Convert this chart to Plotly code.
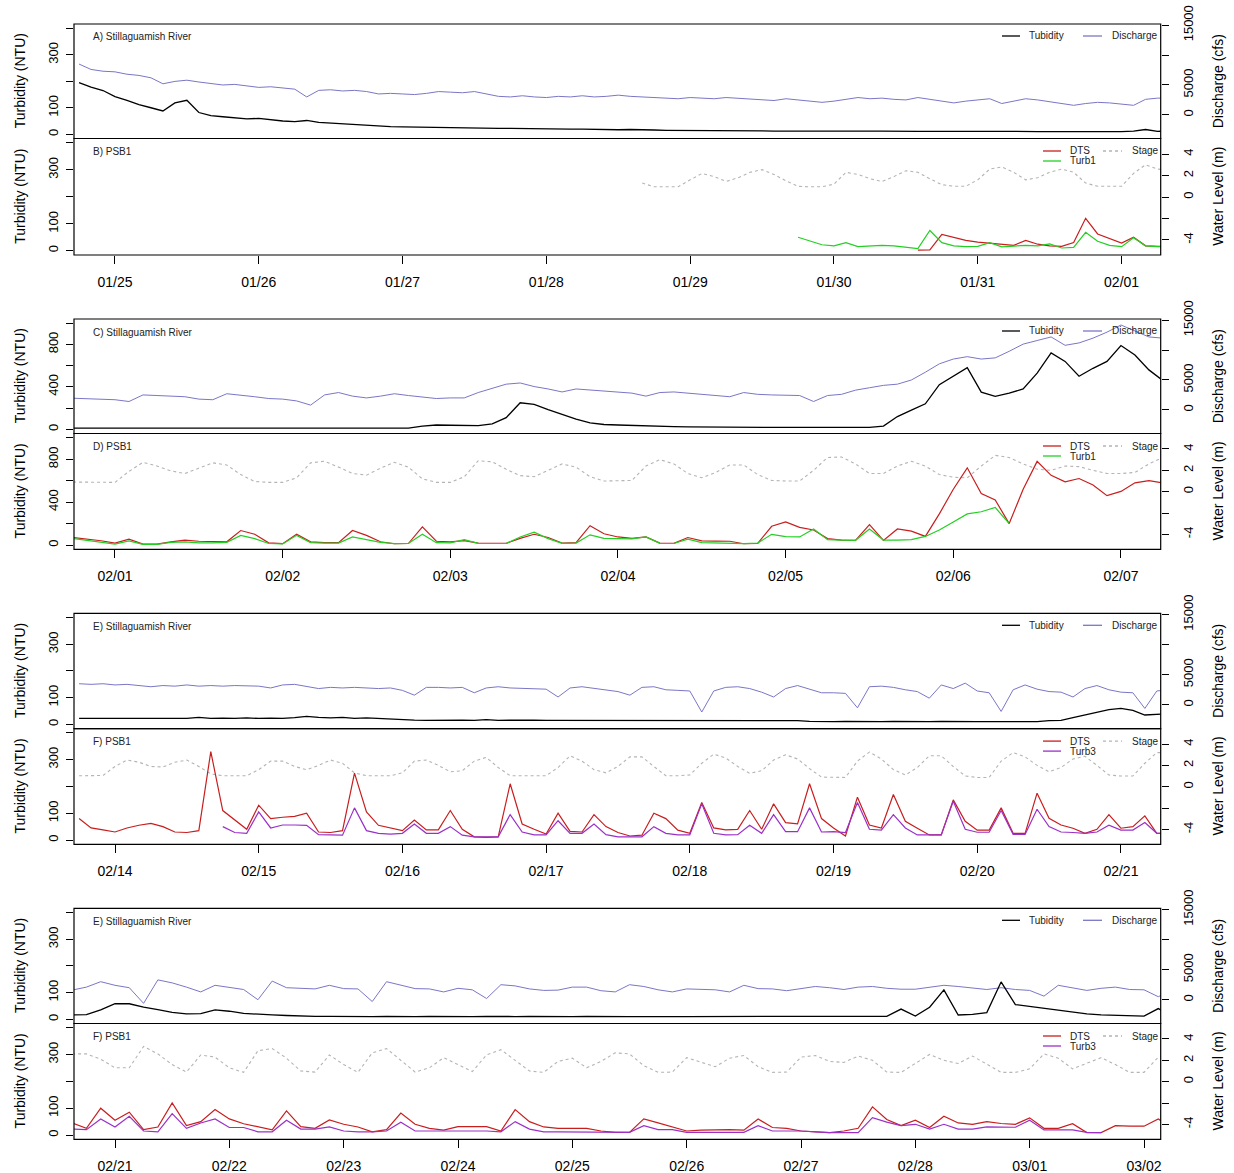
import plotly.graph_objects as go
import pandas as pd

W, H = 1234, 1173
PX_L, PX_R = 74.0, 1160.7
FONT = "Liberation Sans, Arial, sans-serif"

# ---------------- DATA ----------------
# Group 1 (Jan 25 - Feb 1), 2-hour samples
g1_start = "2015-01-24 18:00"
g1_turbidity = [195,178,165,142,128,112,100,88,118,128, 82,70,66,61,58,60,54,50,48,52,
                45,42,40,38,34,30,29,28,27,26, 27,25,24,24,23,22,22,21,21,20,
                20,19,19,18,18,17,18,16,16,15, 15,
                14,14,15,13,14,13,13,12,13,12, 12,13,12,12,11,12,12,11,12,11,
                11,12,11,11,10,11,11,10,11,10, 10,11,10,10,11,10,10,12,18,11,12]
g1_discharge = [8500,7600,7300,7200,6800,6600,6200,5200,5600,5800,
                5500,5300,5000,5100,4800,4600,4700,4500,4300,3000,
                4100,4200,4000,4100,3900,3500,3600,3500,3400,3600,
                3900,3800,3700,3900,3500,3100,3000,3200,3000,2900,
                3100,3000,3200,3000,3100,3300,3100,3000,2900,2800,
                2700,2900,2800,2700,2900,2800,2700,2500,2400,2700,
                2500,2400,2100,2300,2600,2900,2700,2800,2600,2500,
                2900,2600,2200,2000,2300,2500,2700,1900,2300,2700,
                2500,2200,2000,1600,1900,2100,2000,1800,1600,2600,
                2800,2800]
g1_stage_start = "2015-01-28 16:00"
g1_stage = [1.3,0.95,0.95,0.95,1.6,2.2,1.9,1.45,1.8,2.3, 2.55,2.1,1.5,1.0,0.95,0.95,1.2,2.3,2.1,1.7,
            1.45,1.9,2.45,2.3,1.7,1.15,1.0,1.0,1.6,2.6, 2.8,2.3,1.6,1.8,2.3,2.6,2.3,1.3,1.0,1.0,
            1.0,2.2,3.0,2.6,2.5]
g1_turb1_start = "2015-01-29 18:00"
g1_turb1 = [50,35,22,18,30,15,18,20,18,12, 8,75,30,18,15,16,30,14,16,20,
            18,25,10,12,68,35,20,15,48,18, 15,15]
g1_dts_start = "2015-01-30 14:00"
g1_dts = [2,3,60,48,38,32,28,24,20,38, 24,18,16,30,120,62,45,28,50,18, 16,16]

# Group 2 (Feb 1 - Feb 7), 2-hour samples
g2_start = "2015-01-31 18:00"
g2_turbidity = [10,10,11,10,15,10,14,10,10,10, 10,10,10,10,10,10,10,10,10,10, 10,10,10,10,10,
                30,40,38,36,35,50,110,250,235,185, 140,95,60,45,40,35,30,27,25,23,
                21,20,19,18,18,17,17,17,17,16, 16,16,18,30,120,180,240,420,500,580,
                350,310,340,380,530,720,640,500,575,640, 790,700,560,460]
g2_discharge = [1950,1900,1800,1700,1400,2500,2400,2300,2200,1800,
                1700,2700,2500,2200,1900,1800,1500,800,2500,2900,
                2300,2000,2300,2700,2400,2100,1900,2000,2000,2900,
                3600,4300,4500,3900,3500,3000,3500,3300,3100,3000,
                2800,2300,2900,3000,2800,2700,2500,2200,2900,2600,
                2500,2400,2400,1400,2400,2600,3300,3700,4100,4300,
                5000,6300,7700,8500,8900,8500,8700,9800,11000,11600,
                12200,10800,11200,12000,13000,14200,13200,12200,12000]
g2_stage = [0.9,0.87,0.87,0.87,1.9,2.75,2.4,1.95,1.7,2.2, 2.7,2.5,1.6,0.95,0.87,0.87,1.3,2.7,2.85,2.3,
            1.7,1.55,2.2,2.75,2.3,1.2,0.87,0.87,1.4,2.9, 2.8,2.1,1.5,1.4,2.0,2.6,2.3,1.4,1.0,1.0,
            1.05,2.4,3.0,2.6,1.7,1.3,1.8,2.5,2.5,1.6, 1.05,1.0,1.0,2.0,3.2,3.25,2.6,1.7,1.7,2.4,
            2.85,2.4,1.6,1.35,1.3,2.4,3.4,3.2,2.6,2.1, 2.0,2.4,2.35,2.0,1.7,1.7,1.8,2.6,3.2]
g2_dts = [70,55,40,18,55,8,8,30,45,35, 30,30,135,100,20,12,100,30,22,22,
          135,90,30,12,14,170,35,30,40,18, 16,16,62,100,70,18,22,180,105,75,
          62,75,18,16,70,38,37,35,12,15, 175,215,165,140,60,46,44,190,43,150,
          130,80,290,520,720,480,420,200,520,780, 650,590,620,560,460,500,580,600,580]
g2_turb1 = [60,45,30,8,38,6,6,25,30,20, 20,25,90,60,14,10,90,22,18,18,
            75,48,25,12,14,100,22,20,50,16, 14,14,75,120,60,16,18,95,62,60,
            58,75,16,14,55,22,20,20,12,18, 100,78,75,150,50,46,44,150,46,45,
            50,80,140,215,290,310,350,200]

# Group 3 (Feb 14 - Feb 21), 2-hour samples
g3_start = "2015-02-13 18:00"
g3_turbidity = [22,22,24,22,23,22,22,24,22,22, 26,22,23,22,24,22,23,22,25,30,
                26,24,26,22,24,22,20,16,16,15, 16,15,16,15,18,15,16,15,16,15,
                15,16,15,15,16,15,15,14,15,15, 15,14,15,16,15,14,14,15,14,14,
                14,11,10,10,11,10,10,10,11,10, 10,10,11,10,10,10,10,10,10,10,
                10,14,15,25,35,45,55,60,52,35, 38,40]
g3_discharge = [3500,3400,3500,3300,3400,3200,3000,3200,3100,3300,
                3100,3200,3100,3200,3100,3100,2800,3300,3400,3000,
                2700,2900,2800,2900,2800,2700,2800,2400,1600,2900,
                2900,2800,2900,2000,2800,3000,2800,2700,2600,2600,
                1300,2800,3000,2700,2500,2200,1600,2900,3000,2500,
                2400,2300,-1200,2300,2900,3000,2700,2100,1300,2700,
                3200,2600,2000,2000,1900,-500,3000,3100,2900,2500,
                2200,1100,3300,2700,3600,2300,2000,-1100,2500,3300,
                2600,2200,2100,1300,2700,3200,2500,2100,2000,-600,
                2300,2500]
g3_stage = [1.03,1.03,1.05,1.9,2.5,2.3,1.9,1.85,2.3,2.5, 1.9,1.2,1.03,1.03,1.03,1.6,2.4,2.4,1.9,1.6,
            2.0,2.5,2.2,1.3,1.03,1.03,1.03,1.3,2.4,2.5, 2.0,1.4,1.5,2.4,2.75,1.8,1.03,1.03,1.03,1.03,
            1.8,2.9,2.4,1.6,1.3,1.9,2.8,2.8,1.9,1.03, 1.03,1.1,2.2,3.05,2.7,1.9,1.25,1.5,2.5,3.0,
            2.6,1.7,0.9,0.87,0.87,2.4,3.25,2.6,1.6,1.1, 1.8,2.9,2.9,1.9,1.0,0.87,0.87,2.4,3.2,2.8,
            2.0,1.4,1.8,2.6,2.85,2.0,1.1,1.0,1.0,2.2, 3.2,3.2]
g3_dts = [80,45,38,30,45,55,62,50,30,28, 35,330,110,75,40,130,80,85,88,100,
          30,28,35,250,105,55,45,35,75,38, 38,110,40,12,10,12,210,60,40,22,
          100,32,30,95,50,28,15,18,100,80, 37,25,140,45,38,40,110,40,135,65,
          60,210,80,45,15,160,56,45,170,70, 44,19,19,150,70,37,37,120,25,25,
          175,81,56,44,25,40,95,44,50,90, 25,25]
g3_turb3_start = "2015-02-14 18:00"
g3_turb3 = [50,28,25,105,45,56,56,55,20,18, 18,120,35,25,22,25,60,25,25,50,
            18,12,12,12,95,30,19,19,72,25, 25,60,20,12,12,12,50,25,19,19,
            135,25,19,20,55,25,95,31,31,120, 30,31,28,140,40,37,95,45,19,19,
            19,145,40,29,29,110,21,21,115,50, 30,28,25,30,55,37,37,65,25,25]

# Group 4 (Feb 21 - Mar 2), 3-hour samples
g4_start = "2015-02-20 15:00"
g4_turbidity = [16,17,35,58,58,45,36,26,20,21, 35,30,22,18,16,14,12,11,11,10,
                11,10,11,10,10,11,10,10,10,11, 10,10,11,10,10,10,11,10,10,10,
                10,11,10,10,10,11,10,10,10,10, 11,10,10,11,10,10,10,11,38,12,
                45,110,16,18,25,140,55,48,40,32, 26,20,16,14,12,12,40,12]
g4_discharge = [1600,2100,3000,2400,2000,-600,3300,2800,2100,1300,
                2400,2100,1700,0,3100,2000,1850,1800,2400,1850,
                1800,-300,3000,2400,1850,1800,1300,1900,1650,200,
                2500,2300,1800,1550,1600,2100,2100,1500,1300,2500,
                2200,1650,1300,1800,1700,1650,1300,2400,1850,1800,
                1500,1800,2200,2000,1700,2100,2200,1900,1750,1750,
                2100,2400,2200,1900,1700,2000,1700,1550,600,2400,
                2000,1550,1900,2100,1700,1650,500,1700]
g4_stage = [2.6,2.6,2.1,1.3,1.3,3.3,2.6,1.6,0.9,2.5, 2.3,1.3,0.87,2.9,3.1,2.2,1.0,0.9,2.5,1.6,
            0.87,2.7,3.1,2.0,0.9,1.3,2.25,1.6,0.95,2.5, 3.0,2.0,1.0,0.87,1.9,2.2,1.3,1.9,2.7,2.6,
            1.5,0.87,0.9,2.25,1.8,1.4,2.2,2.45,1.4,0.87, 0.9,2.3,2.45,1.9,1.8,2.4,2.0,0.9,0.87,1.7,
            2.55,2.0,1.7,2.4,1.6,0.87,0.87,1.2,2.6,2.2, 1.2,1.7,2.25,1.6,0.87,0.87,2.3,2.6]
g4_dts = [45,25,100,55,85,20,30,120,35,50, 95,60,42,30,19,90,31,25,56,40,
          30,12,20,82,40,25,18,31,31,31, 15,95,50,30,25,25,25,15,10,10,
          60,45,30,15,18,20,20,18,60,28, 25,15,12,9,15,25,105,58,35,55,
          28,70,45,40,50,43,40,64,25,25, 42,9,9,35,33,33,60,25]
g4_turb3 = [22,20,60,30,70,15,12,80,25,45, 60,28,28,12,12,55,22,22,30,15,
            12,12,15,48,15,15,15,15,15,15, 12,50,22,12,12,12,12,10,10,10,
            35,20,20,10,10,10,10,10,35,15, 15,15,12,9,9,9,65,48,35,40,
            22,40,22,22,30,29,29,55,19,19, 19,10,9]

# Axis labels / ticks
x_tick_format = "%m/%d"
turb_ticks_small = [0, 100, 200, 300, 400]
turb_text_small = ["0", "100", "", "300", ""]
turb_ticks_big = [0, 200, 400, 600, 800, 1000]
turb_text_big = ["0", "", "400", "", "800", ""]
q_ticks = [0, 5000, 10000, 15000]
q_text = ["0", "5000", "", "15000"]
wl_ticks = [-4, -2, 0, 2, 4]
wl_text = ["-4", "", "0", "2", "4"]

panel_titles = ["A) Stillaguamish River", "B) PSB1", "C) Stillaguamish River", "D) PSB1",
                "E) Stillaguamish River", "F) PSB1", "E) Stillaguamish River", "F) PSB1"]
turb_names = ["Turb1", "Turb1", "Turb3", "Turb3"]

# ---------------- STYLE / LAYOUT ----------------
C_TURB = "#000000"
C_Q = "#7a76c6"
C_DTS = "#c81e1e"
C_T1 = "#22d022"
C_T3 = "#9b30c8"
C_STAGE = "#b4b4b4"

groups = [
    dict(ref="2015-01-25", xr=(-0.285, 7.272), top=24.0, mid=138.5, bot=255.0, big=False),
    dict(ref="2015-02-01", xr=(-0.2445, 6.237), top=319.0, mid=433.5, bot=549.3, big=True),
    dict(ref="2015-02-14", xr=(-0.2853, 7.277), top=613.3, mid=728.6, bot=844.3, big=False),
    dict(ref="2015-02-21", xr=(-0.3586, 9.146), top=908.3, mid=1023.5, bot=1139.3, big=False),
]

def fx(px):
    return px / W

def fy(py):
    return 1 - py / H

fig = go.Figure()

def add_line(start, freq, vals, pidx, axis_kind, color, width=1.1, dash="solid"):
    t = pd.date_range(start, periods=len(vals), freq=freq)
    ya = "y%d" % pidx if axis_kind == "right" else "y%d" % (pidx + 8)
    fig.add_trace(go.Scatter(x=t, y=vals, mode="lines",
                             xaxis="x%d" % pidx, yaxis=ya,
                             line=dict(color=color, width=width, dash=dash),
                             showlegend=False, hoverinfo="skip"))

series = [
    dict(start=g1_start, freq="2h", turb=g1_turbidity, q=g1_discharge,
         stage=(g1_stage_start, g1_stage), dts=(g1_dts_start, g1_dts), tb=(g1_turb1_start, g1_turb1), tbc=C_T1),
    dict(start=g2_start, freq="2h", turb=g2_turbidity, q=g2_discharge,
         stage=(g2_start, g2_stage), dts=(g2_start, g2_dts), tb=(g2_start, g2_turb1), tbc=C_T1),
    dict(start=g3_start, freq="2h", turb=g3_turbidity, q=g3_discharge,
         stage=(g3_start, g3_stage), dts=(g3_start, g3_dts), tb=(g3_turb3_start, g3_turb3), tbc=C_T3),
    dict(start=g4_start, freq="3h", turb=g4_turbidity, q=g4_discharge,
         stage=(g4_start, g4_stage), dts=(g4_start, g4_dts), tb=(g4_start, g4_turb3), tbc=C_T3),
]

layout = dict(width=W, height=H, margin=dict(l=0, r=0, t=0, b=0, pad=0, autoexpand=False),
              paper_bgcolor="white", plot_bgcolor="white", showlegend=False,
              font=dict(family=FONT, color="black"))
shapes = []
annotations = []

tickfont = dict(family=FONT, size=13, color="black")

for gi, g in enumerate(groups):
    s = series[gi]
    ref = pd.Timestamp(g["ref"])
    xr = [ref + pd.Timedelta(days=g["xr"][0]), ref + pd.Timedelta(days=g["xr"][1])]
    for k in range(2):
        p = gi * 2 + k + 1
        top = g["top"] if k == 0 else g["mid"]
        bot = g["mid"] if k == 0 else g["bot"]
        dom = [fy(bot), fy(top)]
        is_bottom = (k == 1)
        xa = dict(domain=[fx(PX_L), fx(PX_R)], anchor="y%d" % p, type="date", range=xr,
                  showgrid=False, zeroline=False, showline=False, automargin=False)
        if is_bottom:
            xa.update(ticks="outside", ticklen=8, tickwidth=1, tickcolor="black",
                      tick0=g["ref"], dtick=86400000, tickformat=x_tick_format,
                      tickfont=dict(family=FONT, size=14, color="black"), ticklabelstandoff=6)
        else:
            xa.update(showticklabels=False, ticks="")
        layout["xaxis%d" % p] = xa

        if k == 0:
            rr, rv, rt = [-3950, 15200], q_ticks, q_text
        else:
            rr, rv, rt = [-5.4, 5.45], wl_ticks, wl_text
        layout["yaxis%d" % p] = dict(domain=dom, anchor="x%d" % p, side="right", range=rr,
                                     tickvals=rv, ticktext=rt, ticks="outside", ticklen=7,
                                     tickcolor="black", tickangle=-90, tickfont=tickfont,
                                     showgrid=False, zeroline=False, showline=False,
                                     ticklabelstandoff=9, automargin=False)
        if g["big"]:
            lr, lv, lt = [-40, 1040], turb_ticks_big, turb_text_big
        else:
            lr, lv, lt = [-16, 416], turb_ticks_small, turb_text_small
        layout["yaxis%d" % (p + 8)] = dict(overlaying="y%d" % p, anchor="x%d" % p, side="left",
                                           range=lr, tickvals=lv, ticktext=lt, ticks="outside",
                                           ticklen=7, tickcolor="black", tickangle=-90,
                                           tickfont=tickfont, showgrid=False, zeroline=False,
                                           showline=False, ticklabelstandoff=3, automargin=False)
        shapes.append(dict(type="rect", xref="paper", yref="paper", x0=fx(PX_L), x1=fx(PX_R),
                           y0=fy(bot), y1=fy(top), line=dict(color="black", width=1.2),
                           fillcolor="rgba(0,0,0,0)"))
        annotations.append(dict(text="Turbidity (NTU)", x=fx(20), y=fy((top + bot) / 2),
                                xref="paper", yref="paper", showarrow=False, textangle=-90,
                                font=dict(family=FONT, size=14, color="black"),
                                xanchor="center", yanchor="middle"))
        annotations.append(dict(text="Discharge (cfs)" if k == 0 else "Water Level (m)",
                                x=fx(1218), y=fy((top + bot) / 2), xref="paper", yref="paper",
                                showarrow=False, textangle=-90,
                                font=dict(family=FONT, size=14, color="black"),
                                xanchor="center", yanchor="middle"))
        annotations.append(dict(text=panel_titles[p - 1], x=fx(91), y=fy(top + 13),
                                xref="paper", yref="paper", showarrow=False,
                                font=dict(family=FONT, size=10, color="#222"),
                                xanchor="left", yanchor="middle"))

        def leg_line(x0, x1, yy, color, dash="solid"):
            shapes.append(dict(type="line", xref="paper", yref="paper", x0=fx(x0), x1=fx(x1),
                               y0=fy(yy), y1=fy(yy), line=dict(color=color, width=1.3, dash=dash)))

        def leg_text(txt, x0, yy):
            annotations.append(dict(text=txt, x=fx(x0), y=fy(yy), xref="paper", yref="paper",
                                    showarrow=False, font=dict(family=FONT, size=10, color="#222"),
                                    xanchor="left", yanchor="middle"))
        if k == 0:
            yy = top + 12
            leg_line(1002, 1020, yy, C_TURB)
            leg_text("Tubidity", 1027, yy)
            leg_line(1083, 1102, yy, C_Q)
            leg_text("Discharge", 1110, yy)
        else:
            yy = top + 12.5
            leg_line(1043, 1061, yy, C_DTS)
            leg_text("DTS", 1068, yy)
            leg_line(1043, 1061, yy + 10, s["tbc"])
            leg_text(turb_names[gi], 1068, yy + 10)
            leg_line(1103, 1122, yy, C_STAGE, "dot")
            leg_text("Stage", 1130, yy)

    pt = gi * 2 + 1
    pb = gi * 2 + 2
    add_line(s["start"], s["freq"], s["q"], pt, "right", C_Q, 1.0)
    add_line(s["start"], s["freq"], s["turb"], pt, "left", C_TURB, 1.3)
    add_line(s["stage"][0], s["freq"], s["stage"][1], pb, "right", C_STAGE, 1.1, "dot")
    add_line(s["dts"][0], s["freq"], s["dts"][1], pb, "left", C_DTS, 1.2)
    add_line(s["tb"][0], s["freq"], s["tb"][1], pb, "left", s["tbc"], 1.2)

layout["shapes"] = shapes
layout["annotations"] = annotations
fig.update_layout(**layout)
fig.write_html("out.html")
